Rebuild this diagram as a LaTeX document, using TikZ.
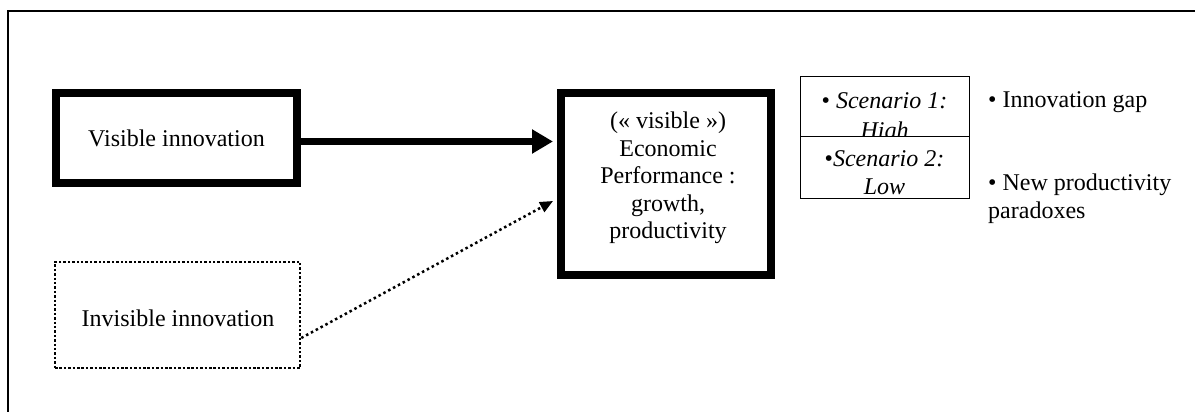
\documentclass[tikz,border=0pt]{standalone}
\usepackage{fontspec}
\setmainfont{Liberation Serif}
\usetikzlibrary{arrows.meta}
\begin{document}
\begin{tikzpicture}[x=1pt,y=-1pt,
  every node/.style={font=\fontsize{24}{27.5}\selectfont, inner sep=0pt},
  thickbox/.style={draw, line width=8pt, minimum width=#1},
  dotbox/.style={draw, line width=2.5pt, dash pattern=on 2.5pt off 1.9pt},
  thinbox/.style={draw, line width=1pt, minimum width=169pt},
  txt/.style={align=center},
  bigarrow/.style={line width=7pt, -{Triangle[length=21pt,width=23pt]}},
  dotarrow/.style={line width=2.5pt, dash pattern=on 2.5pt off 3pt, -{Triangle[length=13pt,width=11pt]}}]
\useasboundingbox (0,0) rectangle (1195,412);
% frame
\draw[line width=2pt] (8,413) -- (8,11) -- (1196,11);
% boxes
\node[thickbox=241pt, minimum height=90pt] (vis) at (176.5,138) {Visible innovation};
\node[thickbox=210pt, minimum height=182pt] (econ) at (666,184) {};
\node[txt] (econtxt) at (668,178) {(« visible »)\\Economic\\Performance :\\growth,\\productivity};
\node[dotbox, minimum width=245pt, minimum height=106pt] (inv) at (177.5,315) {};
\node (invtxt) at (178,318) {Invisible innovation};
% scenario boxes
\node[thinbox, minimum height=70pt, anchor=north] (sc1) at (884.5,76) {};
\node[anchor=base] (sc1a) at (884.5,109) {\textbullet{} \textit{Scenario 1:}};
\node[anchor=base] (sc1b) at (884.5,139) {\textit{High}};
\node[thinbox, fill=white, minimum height=62pt, anchor=north] (sc2) at (884.5,136) {};
\node[anchor=base] (sc2a) at (884.5,166) {\textbullet\textit{Scenario 2:}};
\node[anchor=base] (sc2b) at (884.5,194) {\textit{Low}};
% right texts
\node[anchor=base west] (gap) at (988,107) {\textbullet{} Innovation gap};
\node[anchor=base west] (para1) at (988,190) {\textbullet{} New productivity};
\node[anchor=base west] (para2) at (988,218) {paradoxes};
% arrows
\draw[bigarrow] ([yshift=-3.5pt]vis.east) -- ([yshift=-3.5pt,xshift=-4pt]econ.west |- vis.east);
\draw[dotarrow] ([yshift=-23pt]inv.east) -- ([yshift=-17pt,xshift=-4pt]econ.west);
\end{tikzpicture}
\end{document}
